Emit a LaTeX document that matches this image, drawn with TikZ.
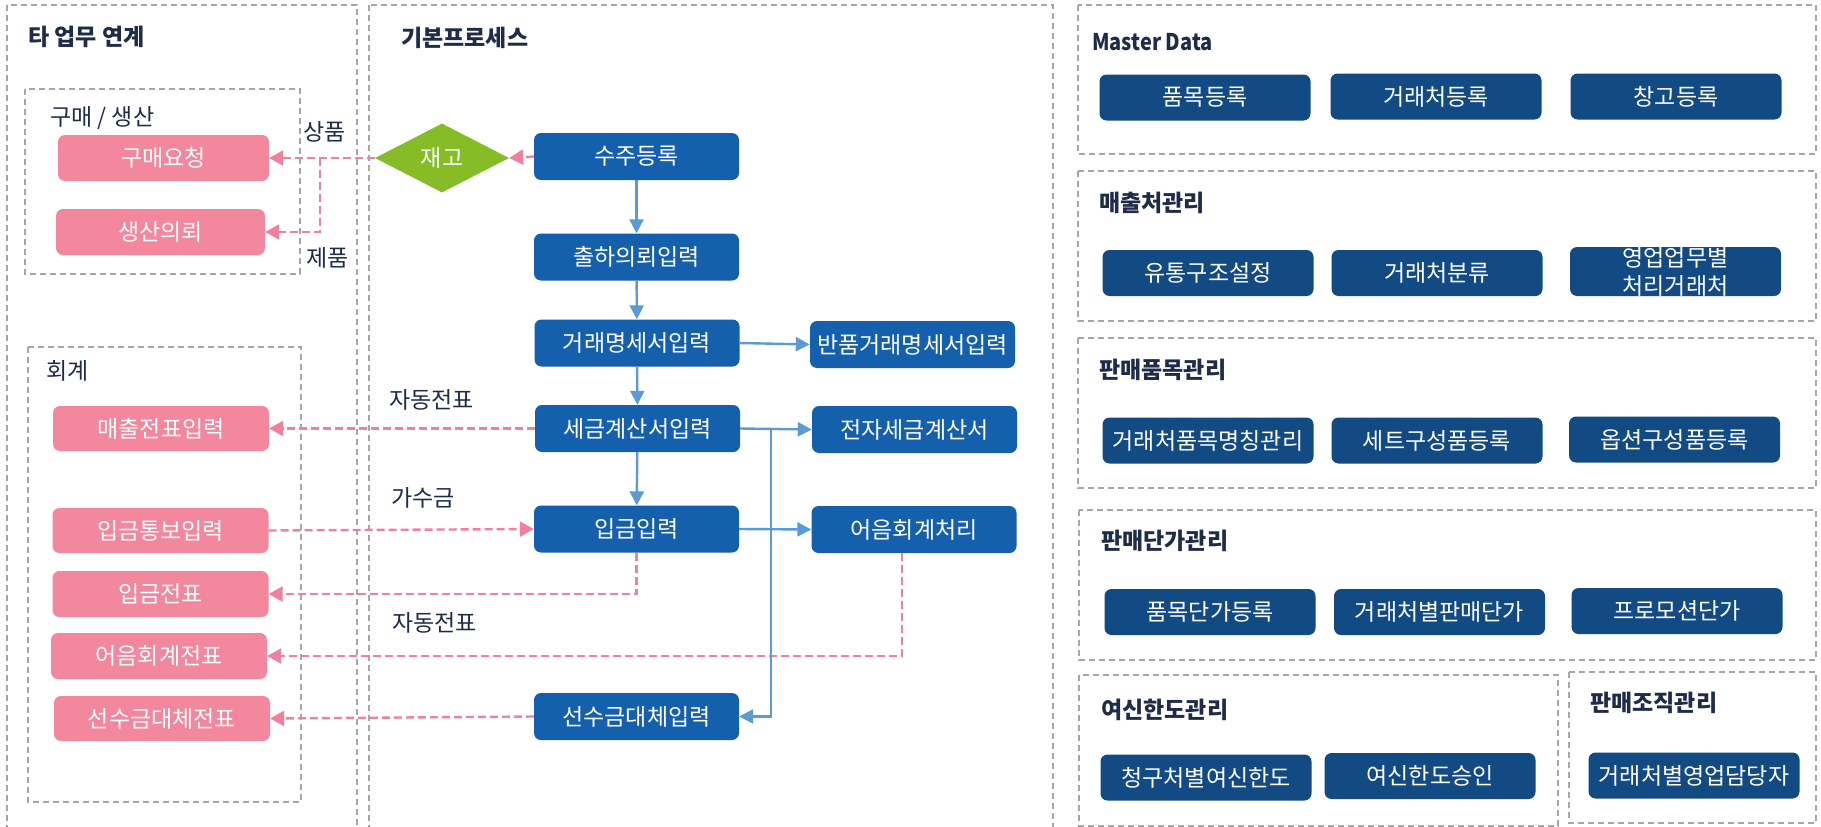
\documentclass[tikz,border=0pt]{standalone}
\usepackage{fontspec}
\setmainfont{Noto Sans CJK KR}
\usetikzlibrary{arrows.meta,shapes.geometric}
\newcommand\fsz[1]{\fontsize{#1pt}{#1pt}\selectfont}
\definecolor{pinkc}{HTML}{F2879E}
\definecolor{bluec}{HTML}{1560AC}
\definecolor{navyc}{HTML}{124A84}
\definecolor{blueline}{HTML}{5B9BD5}
\definecolor{pinkline}{HTML}{F0809B}
\definecolor{greenc}{HTML}{86BC25}
\definecolor{framegray}{HTML}{A6A6A6}
\definecolor{titlec}{HTML}{1E2C4A}
\tikzset{
  frame/.style={draw=framegray, line width=1.4pt, dash pattern=on 6pt off 4pt},
  boxbase/.style={rounded corners=7pt, text=white, font=\fsz{23}, inner sep=0pt, minimum height=46pt},
  pinkbox/.style={boxbase, fill=pinkc, minimum width=216pt},
  blubox/.style={boxbase, fill=bluec, minimum width=205pt, minimum height=47pt},
  navybox/.style={boxbase, fill=navyc, minimum width=211pt},
  ttl/.style={anchor=west, inner sep=0pt, text=titlec, font=\fsz{23}\bfseries},
  lbl/.style={anchor=west, inner sep=0pt, text=titlec, font=\fsz{23}},
  parrow/.style={draw=pinkline, line width=2.4pt, dash pattern=on 8pt off 4pt, -{Triangle[length=14pt,width=15pt]}},
  barrow/.style={draw=blueline, line width=2.4pt, -{Triangle[length=14pt,width=14pt]}},
}
\begin{document}
\begin{tikzpicture}[x=1pt,y=-1pt]
\useasboundingbox (0,0) rectangle (1821,827);
\fill[white] (0,0) rectangle (1821,827);
% frames
\draw[frame] (7,5) rectangle (357,840);
\draw[frame] (369,5) rectangle (1053,840);
\draw[frame] (25,89) rectangle (300,274);
\draw[frame] (28,347) rectangle (301,802);
\draw[frame] (1078,5) rectangle (1816,154);
\draw[frame] (1078,171) rectangle (1816,321);
\draw[frame] (1078,338) rectangle (1816,488);
\draw[frame] (1079,510) rectangle (1816,660);
\draw[frame] (1079,675) rectangle (1558,826);
\draw[frame] (1569,672) rectangle (1816,823);
% titles
\node[ttl] (t1) at (28,37) {타 업무 연계};
\node[ttl] (t2) at (401,38) {기본프로세스};
\node[ttl, xscale=0.87] (t3) at (1092,42) {Master Data};
\node[ttl] (t4) at (1099,203) {매출처관리};
\node[ttl] (t5) at (1099,370) {판매품목관리};
\node[ttl] (t6) at (1101,541) {판매단가관리};
\node[ttl] (t7) at (1101,710) {여신한도관리};
\node[ttl] (t8) at (1590,703) {판매조직관리};
\node[lbl] (s1) at (50,118) {구매 / 생산};
\node[lbl] (s2) at (46,371) {회계};
\node[lbl] (l1) at (303,132) {상품};
\node[lbl] (l2) at (306,258) {제품};
\node[lbl] (l3) at (389,400) {자동전표};
\node[lbl] (l4) at (391,498) {가수금};
\node[lbl] (l5) at (392,623) {자동전표};
% left pink boxes
\node[pinkbox, minimum width=211pt] (gumae) at (163.5,158) {구매요청};
\node[pinkbox, minimum width=209pt] (saengsan) at (160.5,232) {생산의뢰};
\node[pinkbox, minimum height=45pt] (maechul) at (161,428.5) {매출전표입력};
\node[pinkbox, minimum height=45pt] (tongbo) at (160.5,530.5) {입금통보입력};
\node[pinkbox] (ipjeon) at (160.5,594) {입금전표};
\node[pinkbox] (eojeon) at (159,656) {어음회계전표};
\node[pinkbox, minimum height=45pt] (seonjeon) at (162,718.5) {선수금대체전표};
% middle
\node[diamond, fill=greenc, text=white, font=\fsz{23}, minimum width=134pt, minimum height=69pt, inner sep=0pt] (jaego) at (442,158) {재고};
\node[blubox] (suju) at (636.5,156.5) {수주등록};
\node[blubox] (chulha) at (636.5,257) {출하의뢰입력};
\node[blubox] (georae) at (637,343) {거래명세서입력};
\node[blubox] (banpum) at (912.5,344.5) {반품거래명세서입력};
\node[blubox] (segeum) at (637.5,428.5) {세금계산서입력};
\node[blubox] (jeonja) at (914.5,429.5) {전자세금계산서};
\node[blubox] (ipgeum) at (636.5,529) {입금입력};
\node[blubox] (eoeum) at (914,529.5) {어음회계처리};
\node[blubox] (seonsu) at (636.5,716.5) {선수금대체입력};
% right
\node[navybox] (r11) at (1205,97.5) {품목등록};
\node[navybox] (r12) at (1436,96.5) {거래처등록};
\node[navybox] (r13) at (1676,96.5) {창고등록};
\node[navybox] (r21) at (1208,273) {유통구조설정};
\node[navybox] (r22) at (1437,273) {거래처분류};
\node[navybox, minimum height=49pt, align=center, font=\fontsize{23pt}{28pt}\selectfont] (r23) at (1675.5,271.5) {영업업무별\\처리거래처};
\node[navybox] (r31) at (1208,440.5) {거래처품목명칭관리};
\node[navybox] (r32) at (1437,440.5) {세트구성품등록};
\node[navybox] (r33) at (1674.5,439.5) {옵션구성품등록};
\node[navybox] (r41) at (1210,612) {품목단가등록};
\node[navybox] (r42) at (1439.5,612) {거래처별판매단가};
\node[navybox] (r43) at (1677,611) {프로모션단가};
\node[navybox] (r51) at (1206,777.5) {청구처별여신한도};
\node[navybox] (r52) at (1430,776) {여신한도승인};
\node[navybox] (r53) at (1694,775.5) {거래처별영업담당자};
% pink connectors
\coordinate (br) at (320,158);
\draw[parrow] (suju.west) -- (jaego.east);
\draw[parrow] (jaego.west) -- (gumae.east);
\draw[parrow] (br) |- (saengsan.east);
\draw[parrow] (segeum.west) -- (maechul.east);
\draw[parrow] (tongbo.east) -- (ipgeum.west);
\draw[parrow] (ipgeum.south) |- (ipjeon.east);
\draw[parrow] ([xshift=-12pt]eoeum.south) |- (eojeon.east);
\draw[parrow] (seonsu.west) -- (seonjeon.east);
% blue connectors
\draw[barrow] (suju) -- (chulha);
\draw[barrow] (chulha) -- (georae);
\draw[barrow] (georae.east) -- (banpum.west);
\draw[barrow] (georae) -- (segeum);
\draw[barrow] (segeum.east) -- (jeonja.west);
\draw[barrow] (segeum) -- (ipgeum);
\draw[barrow] (ipgeum.east) -- (eoeum.west);
\coordinate (vt) at (771,429);
\draw[barrow] (vt) |- (seonsu.east);
\end{tikzpicture}
\end{document}
